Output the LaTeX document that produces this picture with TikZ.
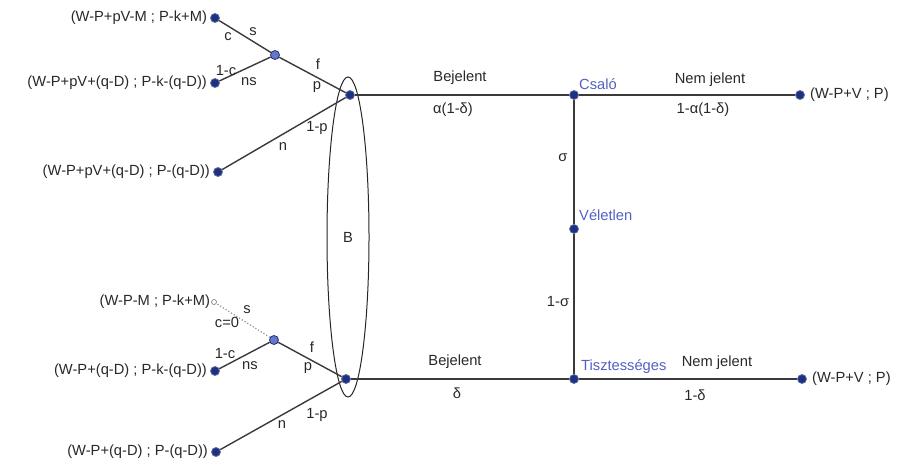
\documentclass[tikz,border=0pt]{standalone}
\usepackage{fontspec}
\setmainfont{Liberation Sans}
\usetikzlibrary{shapes.geometric}
\definecolor{dDot}{RGB}{32,48,128}
\definecolor{dMid}{RGB}{104,118,200}
\definecolor{dLine}{RGB}{58,58,58}
\definecolor{dTxt}{RGB}{40,40,40}
\definecolor{dBlue}{RGB}{84,96,196}
\tikzset{
  dot/.style={circle, fill=dDot, draw=dDot!70!white, line width=0.8pt,
              inner sep=0pt, minimum size=9pt},
  mid/.style={dot, fill=dMid, draw=dDot},
  hollow/.style={circle, draw=dLine!70, fill=white, line width=0.6pt,
                 inner sep=0pt, minimum size=5pt},
  branch/.style={draw=dLine, line width=1.4pt},
  branchd/.style={draw=dLine!55, line width=1.2pt, dotted},
  lbl/.style={font=\fontsize{14.7}{17}\selectfont, text=dTxt, inner sep=1pt},
  plbl/.style={lbl, text=dBlue},
  pay/.style={label={[lbl,label distance=2pt]left:{#1}}},
  payr/.style={label={[lbl,label distance=4pt]right:{#1}}},
  infoset/.style={ellipse, draw=black!85, line width=1pt, inner sep=0pt,
                  minimum width=42pt, minimum height=320pt,
                  font=\fontsize{14.7}{17}\selectfont, text=dTxt},
}
\begin{document}
\begin{tikzpicture}[x=1pt, y=-1pt]
  \useasboundingbox (0,0) rectangle (909,465);

  % --- information set of the buyer ---
  \node[infoset] (B) at (348,237) {B};

  % --- nature and the two types ---
  \node[dot] (cs)  at (574,95)  {};
  \node[dot] (vel) at (574,229) {};
  \node[dot] (tsz) at (574,379) {};
  \node[plbl,anchor=west] (csl)  at (578,84)  {Csaló};
  \node[plbl,anchor=west] (vell) at (578,215) {Véletlen};
  \node[plbl,anchor=west] (tszl) at (580,367) {Tisztességes};

  \node[dot,payr={(W-P+V ; P)}] (up)  at (800,95)  {};
  \node[dot,payr={(W-P+V ; P)}] (lp)  at (802,379) {};

  % --- upper decision nodes ---
  \node[dot] (b1) at (350,95) {};
  \node[mid] (m1) at (275,55) {};
  \node[dot,pay={(W-P+pV-M ; P-k+M)}]            (e1) at (215,18)  {};
  \node[dot,pay={(W-P+pV+(q-D) ; P-k-(q-D))}]    (e2) at (215,83)  {};
  \node[dot,pay={(W-P+pV+(q-D) ; P-(q-D))}]      (e3) at (218,172) {};

  % --- lower decision nodes ---
  \node[dot] (b2) at (346,379) {};
  \node[mid] (m2) at (274,340) {};
  \node[hollow,label={[lbl,label distance=0pt]left:{(W-P-M ; P-k+M)}}] (e4) at (214,302) {};
  \node[dot,pay={(W-P+(q-D) ; P-k-(q-D))}]       (e5) at (215,371) {};
  \node[dot,pay={(W-P+(q-D) ; P-(q-D))}]         (e6) at (216,452) {};

  % --- branches ---
  \draw[branch] (vel) -- (cs);
  \draw[branch] (vel) -- (tsz);
  \draw[branch] (cs) -- (b1);
  \draw[branch] (cs) -- (up);
  \draw[branch] (tsz) -- (b2);
  \draw[branch] (tsz) -- (lp);

  \draw[branch] (b1) -- (m1);
  \draw[branch] (b1) -- (e3);
  \draw[branch] (m1) -- (e1);
  \draw[branch] (m1) -- (e2);

  \draw[branch] (b2) -- (m2);
  \draw[branch] (b2) -- (e6);
  \draw[branchd] (m2) -- (e4);
  \draw[branch] (m2) -- (e5);

  % --- probabilities and actions ---
  \node[lbl] (bj1) at (460,78)  {Bejelent};
  \node[lbl] (pr1) at (453,110) {α(1-δ)};
  \node[lbl] (nj1) at (710,80)  {Nem jelent};
  \node[lbl] (pr2) at (703,110) {1-α(1-δ)};
  \node[lbl] (bj2) at (455,362) {Bejelent};
  \node[lbl] (pr3) at (457,393) {δ};
  \node[lbl] (nj2) at (717,363) {Nem jelent};
  \node[lbl] (pr4) at (695,395) {1-δ};
  \node[lbl] (sg1) at (563,158) {σ};
  \node[lbl] (sg2) at (558,302) {1-σ};

  \node[lbl] (c1)  at (228,37)  {c};
  \node[lbl] (s1)  at (253,32)  {s};
  \node[lbl] (f1)  at (318,64)  {f};
  \node[lbl] (p1)  at (317,87)  {p};
  \node[lbl] (nc1) at (226,71)  {1-c};
  \node[lbl] (ns1) at (249,82)  {ns};
  \node[lbl] (np1) at (317,128) {1-p};
  \node[lbl] (n1)  at (283,147) {n};

  \node[lbl] (s2)  at (247,310) {s};
  \node[lbl] (c2)  at (227,322) {c=0};
  \node[lbl] (f2)  at (312,347) {f};
  \node[lbl] (p2)  at (308,368) {p};
  \node[lbl] (nc2) at (225,354) {1-c};
  \node[lbl] (ns2) at (250,366) {ns};
  \node[lbl] (np2) at (317,415) {1-p};
  \node[lbl] (n2)  at (282,425) {n};
\end{tikzpicture}
\end{document}
